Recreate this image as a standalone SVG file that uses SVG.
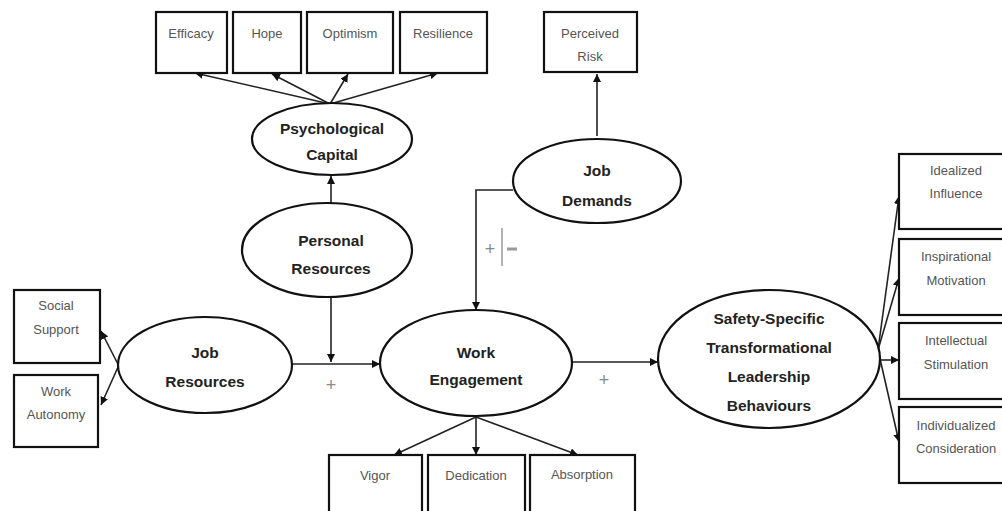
<svg xmlns="http://www.w3.org/2000/svg" width="1002" height="511" viewBox="0 0 1002 511">
<defs>
<marker id="ah" viewBox="0 0 10 10" refX="10" refY="5" markerWidth="8" markerHeight="8" orient="auto" markerUnits="userSpaceOnUse">
<path d="M0,0 L10,5 L0,10 z" fill="#111"/>
</marker>
<style>
.box{fill:#fff;stroke:#111;stroke-width:2.2}
.ell{fill:#fff;stroke:#111;stroke-width:2.2}
.bt{font-family:"Liberation Sans",sans-serif;font-size:13px;fill:#555;text-anchor:middle}
.et{font-family:"Liberation Sans",sans-serif;font-size:15.5px;font-weight:bold;fill:#222;text-anchor:middle}
.c{fill:none;stroke:#222;stroke-width:1.6}
.ca{fill:none;stroke:#222;stroke-width:1.6;marker-end:url(#ah)}
.sign{font-family:"Liberation Sans",sans-serif;font-size:18px;fill:#888;text-anchor:middle}
</style>
</defs>
<rect width="1002" height="511" fill="#fff"/>
<g id="connectors">
<line class="ca" x1="330" y1="104" x2="195" y2="73"/>
<line class="ca" x1="330" y1="104" x2="272" y2="74"/>
<line class="ca" x1="330" y1="104" x2="348" y2="74"/>
<line class="ca" x1="330" y1="104" x2="438" y2="73"/>
<line class="ca" x1="597" y1="136" x2="597" y2="74"/>
<line class="ca" x1="331" y1="203" x2="331" y2="176"/>
<line class="ca" x1="123" y1="374" x2="101" y2="331"/>
<line class="ca" x1="123" y1="356" x2="101" y2="405"/>
<line class="ca" x1="292" y1="364" x2="380" y2="364"/>
<line class="ca" x1="331" y1="298" x2="331" y2="362"/>
<polyline class="ca" points="513,190 476,190 476,310"/>
<line class="ca" x1="572" y1="362" x2="658" y2="362"/>
<line class="ca" x1="476" y1="417" x2="394" y2="455"/>
<line class="ca" x1="476" y1="417" x2="476" y2="455"/>
<line class="ca" x1="476" y1="417" x2="578" y2="455"/>
<line class="ca" x1="878" y1="350" x2="899" y2="196"/>
<line class="ca" x1="878" y1="350" x2="899" y2="278"/>
<line class="ca" x1="879" y1="360" x2="899" y2="360"/>
<line class="ca" x1="878" y1="350" x2="899" y2="442"/>
<text class="sign" x="331" y="391">+</text>
<text class="sign" x="604" y="386">+</text>
<text class="sign" x="490" y="255">+</text>
<line x1="502" y1="228" x2="502" y2="266" stroke="#999" stroke-width="1.5"/>
<line x1="507" y1="249" x2="517" y2="249" stroke="#999" stroke-width="3"/>
</g>
<g id="efficacy"><rect class="box" x="156" y="12" width="71" height="61"/><text class="bt" x="191" y="38">Efficacy</text></g>
<g id="hope"><rect class="box" x="233" y="12" width="68" height="61"/><text class="bt" x="267" y="38">Hope</text></g>
<g id="optimism"><rect class="box" x="307" y="12" width="86" height="61"/><text class="bt" x="350" y="38">Optimism</text></g>
<g id="resilience"><rect class="box" x="400" y="12" width="87" height="61"/><text class="bt" x="443" y="38">Resilience</text></g>
<g id="perceived-risk"><rect class="box" x="544" y="12" width="93" height="60"/><text class="bt" x="590" y="38">Perceived</text><text class="bt" x="590" y="61">Risk</text></g>
<g id="psychological-capital"><ellipse class="ell" cx="332" cy="139" rx="80" ry="36"/><text class="et" x="332" y="134">Psychological</text><text class="et" x="332" y="160">Capital</text></g>
<g id="job-demands"><ellipse class="ell" cx="597" cy="181" rx="84" ry="42"/><text class="et" x="597" y="176">Job</text><text class="et" x="597" y="206">Demands</text></g>
<g id="personal-resources"><ellipse class="ell" cx="327" cy="250" rx="85" ry="47"/><text class="et" x="331" y="246">Personal</text><text class="et" x="331" y="274">Resources</text></g>
<g id="job-resources"><ellipse class="ell" cx="205" cy="365" rx="87" ry="48"/><text class="et" x="205" y="358">Job</text><text class="et" x="205" y="387">Resources</text></g>
<g id="social-support"><rect class="box" x="14" y="290" width="86" height="73"/><text class="bt" x="56" y="310">Social</text><text class="bt" x="56" y="334">Support</text></g>
<g id="work-autonomy"><rect class="box" x="14" y="375" width="84" height="72"/><text class="bt" x="56" y="396">Work</text><text class="bt" x="56" y="419">Autonomy</text></g>
<g id="work-engagement"><ellipse class="ell" cx="476" cy="363" rx="96" ry="53"/><text class="et" x="476" y="358">Work</text><text class="et" x="476" y="385">Engagement</text></g>
<g id="vigor"><rect class="box" x="329" y="455" width="93" height="62"/><text class="bt" x="375" y="480">Vigor</text></g>
<g id="dedication"><rect class="box" x="428" y="455" width="97" height="62"/><text class="bt" x="476" y="480">Dedication</text></g>
<g id="absorption"><rect class="box" x="530" y="455" width="105" height="62"/><text class="bt" x="582" y="479">Absorption</text></g>
<g id="sstlb"><ellipse class="ell" cx="769" cy="359" rx="111" ry="69"/><text class="et" x="769" y="324">Safety-Specific</text><text class="et" x="769" y="353">Transformational</text><text class="et" x="769" y="382">Leadership</text><text class="et" x="769" y="411">Behaviours</text></g>
<g id="idealized-influence"><rect class="box" x="899" y="154" width="110" height="75"/><text class="bt" x="956" y="175">Idealized</text><text class="bt" x="956" y="198">Influence</text></g>
<g id="inspirational-motivation"><rect class="box" x="899" y="239" width="110" height="76"/><text class="bt" x="956" y="261">Inspirational</text><text class="bt" x="956" y="285">Motivation</text></g>
<g id="intellectual-stimulation"><rect class="box" x="899" y="323" width="110" height="76"/><text class="bt" x="956" y="345">Intellectual</text><text class="bt" x="956" y="369">Stimulation</text></g>
<g id="individualized-consideration"><rect class="box" x="899" y="407" width="110" height="76"/><text class="bt" x="956" y="430">Individualized</text><text class="bt" x="956" y="453">Consideration</text></g>
</svg>
